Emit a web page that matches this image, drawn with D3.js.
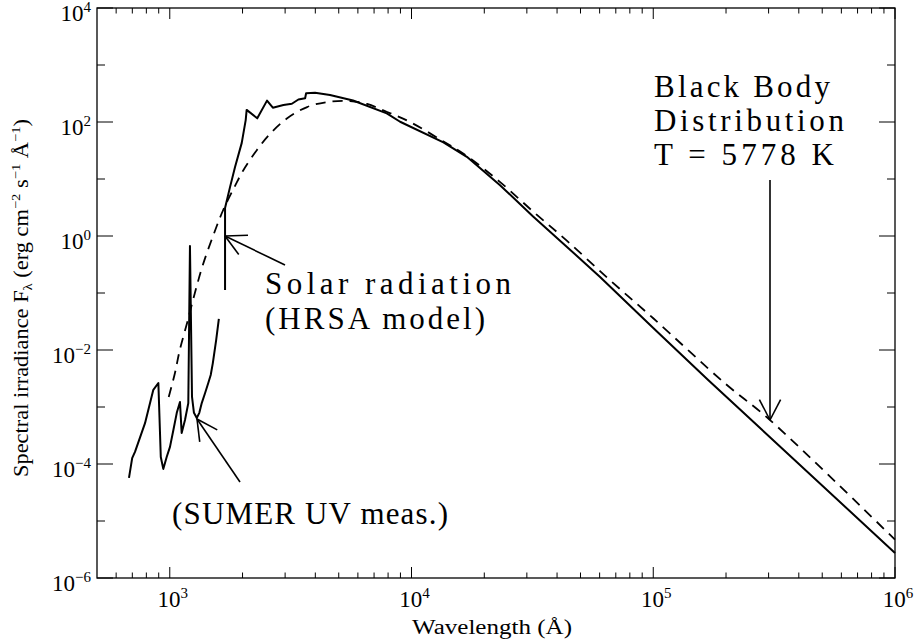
<head>
    <script src="https://d3js.org/d3.v7.min.js"></script>
</head>
<body style="margin:0;background:#fff">
<script>
    // SUMER UV measurement (solid, first piece)
    let sumerWave = [678, 699, 718, 790, 855, 897, 918, 940, 971, 1002, 1035, 1069, 1102, 1120, 1156, 1193, 1212, 1236, 1259, 1293, 1325, 1356, 1400, 1443, 1477, 1507, 1556, 1596];
    let sumerFlux = [5.7e-5, 1.27e-4, 1.63e-4, 5.2e-4, 2.0e-3, 2.64e-3, 1.33e-4, 8.2e-5, 1.33e-4, 2.0e-4, 3.95e-4, 7.9e-4, 1.22e-3, 3.5e-4, 5.9e-4, 1.17e-3, 0.67, 1.5e-3, 7.9e-4, 6.4e-4, 7.9e-4, 1.17e-3, 1.76e-3, 2.64e-3, 3.64e-3, 5.9e-3, 0.015, 0.035];

    // HRSA model (solid, second piece)
    let hrsaWave = [1693, 1693, 1775, 1862, 1985, 2061, 2080, 2301, 2525, 2669, 2953, 3199, 3405, 3630, 3664, 3990, 4600, 5730, 7900, 8970, 13550, 16940, 23240, 31840, 43850, 60250, 100000, 168700, 1000000];
    let hrsaFlux = [0.113, 3.1, 7.2, 16.3, 43, 108, 163, 116, 237, 178, 199, 209, 248, 261, 319, 327, 298, 238, 142, 101, 44, 24.5, 7.8, 2.2, 0.65, 0.191, 0.0244, 2.98e-3, 2.75e-6];

    // black body T = 5778 K (dashed)
    let bbWave = [990, 1050, 1100, 1180, 1270, 1370, 1510, 1660, 1860, 2010, 2290, 2600, 3050, 3700, 4480, 5570, 6550, 7930, 9860, 13500, 17000, 23200, 31800, 44000, 66000, 100000, 198000, 304000, 1000000];
    let bbFlux = [1.5e-3, 3.9e-3, 0.010, 0.030, 0.10, 0.31, 1.0, 2.8, 7.5, 14, 32, 62, 115, 183, 224, 233, 207, 150, 100, 46, 25, 8.9, 2.7, 0.82, 0.17, 0.036, 2.6e-3, 5.9e-4, 4.7e-6];

    let xTickExps = [3, 4, 5, 6];
    let yTickExps = [-6, -4, -2, 0, 2, 4];

    let width = 914;
    let height = 639;
    let pLeft = 97, pRight = 895, pTop = 8, pBottom = 578;
    let font = "'Liberation Serif', 'Times New Roman', serif";

    let svg = d3.select("body").append("svg")
        .attr("width", width)
        .attr("height", height)
        .style("background", "#fff");

    let x = d3.scaleLog().domain([500, 1e6]).range([pLeft, pRight]);
    let y = d3.scaleLog().domain([1e-6, 1e4]).range([pBottom, pTop]);

    // minor / major tick values
    let xMajor = xTickExps.map(e => Math.pow(10, e));
    let xMinor = [];
    [2, 3, 4, 5].forEach(e => {
        for (let k = 2; k <= 9; k++) {
            let v = k * Math.pow(10, e);
            if (v > 500 && v < 1e6) xMinor.push(v);
        }
    });
    let yMajor = yTickExps.map(e => Math.pow(10, e));
    let yMinor = [-5, -3, -1, 1, 3].map(e => Math.pow(10, e));

    let xLen = 11, yLen = 16;
    let ticks = svg.append("g").attr("stroke", "#000").attr("stroke-width", 1);
    xMajor.concat(xMinor).forEach(v => {
        let l = xMajor.includes(v) ? xLen : xLen / 2;
        ticks.append("line").attr("x1", x(v)).attr("x2", x(v)).attr("y1", pBottom).attr("y2", pBottom - l);
        ticks.append("line").attr("x1", x(v)).attr("x2", x(v)).attr("y1", pTop).attr("y2", pTop + l);
    });
    yMajor.concat(yMinor).forEach(v => {
        let l = yMajor.includes(v) ? yLen : yLen / 2;
        ticks.append("line").attr("y1", y(v)).attr("y2", y(v)).attr("x1", pLeft).attr("x2", pLeft + l);
        ticks.append("line").attr("y1", y(v)).attr("y2", y(v)).attr("x1", pRight).attr("x2", pRight - l);
    });

    svg.append("rect")
        .attr("x", pLeft).attr("y", pTop)
        .attr("width", pRight - pLeft).attr("height", pBottom - pTop)
        .attr("fill", "none").attr("stroke", "#000").attr("stroke-width", 1.3);

    // tick labels
    xTickExps.forEach(e => {
        let t = svg.append("text")
            .attr("x", x(Math.pow(10, e)) + 3).attr("y", 607)
            .attr("text-anchor", "middle")
            .attr("font-family", font).attr("font-size", 23);
        t.append("tspan").text("10");
        t.append("tspan").attr("dy", -9).attr("font-size", 15).text(e);
    });
    yTickExps.forEach(e => {
        let t = svg.append("text")
            .attr("x", 91).attr("y", y(Math.pow(10, e)) + 13)
            .attr("text-anchor", "end")
            .attr("font-family", font).attr("font-size", 23);
        t.append("tspan").text("10");
        t.append("tspan").attr("dy", -9).attr("font-size", 15).text(e < 0 ? "\u2212" + (-e) : e);
    });

    // axis titles
    svg.append("text")
        .attr("x", 492).attr("y", 634)
        .attr("text-anchor", "middle")
        .attr("font-family", font).attr("font-size", 20)
        .attr("textLength", 160).attr("lengthAdjust", "spacingAndGlyphs")
        .text("Wavelength (\u00c5)");

    let yt = svg.append("text")
        .attr("transform", "translate(28,298) rotate(-90)")
        .attr("text-anchor", "middle")
        .attr("font-family", font).attr("font-size", 20)
        .attr("textLength", 358).attr("lengthAdjust", "spacingAndGlyphs");
    yt.append("tspan").text("Spectral irradiance F");
    yt.append("tspan").attr("dy", 4).attr("font-size", 13).text("\u03bb");
    yt.append("tspan").attr("dy", -4).text(" (erg cm");
    yt.append("tspan").attr("dy", -8).attr("font-size", 13).text("\u22122");
    yt.append("tspan").attr("dy", 8).text(" s");
    yt.append("tspan").attr("dy", -8).attr("font-size", 13).text("\u22121");
    yt.append("tspan").attr("dy", 8).text(" \u00c5");
    yt.append("tspan").attr("dy", -8).attr("font-size", 13).text("\u22121");
    yt.append("tspan").attr("dy", 8).text(")");

    // curves
    let line = d3.line()
        .x(d => x(d[0]))
        .y(d => y(d[1]));
    let smooth = d3.line()
        .x(d => x(d[0]))
        .y(d => y(d[1]))
        .curve(d3.curveCatmullRom);

    let plot = svg.append("g");
    plot.append("path")
        .datum(bbWave.map((w, i) => [w, bbFlux[i]]))
        .attr("d", smooth)
        .attr("fill", "none").attr("stroke", "#000")
        .attr("stroke-width", 1.8).attr("stroke-dasharray", "10,7");
    plot.append("path")
        .datum(sumerWave.map((w, i) => [w, sumerFlux[i]]))
        .attr("d", line)
        .attr("fill", "none").attr("stroke", "#000").attr("stroke-width", 2)
        .attr("stroke-linejoin", "round");
    plot.append("path")
        .datum(hrsaWave.map((w, i) => [w, hrsaFlux[i]]))
        .attr("d", line)
        .attr("fill", "none").attr("stroke", "#000").attr("stroke-width", 2)
        .attr("stroke-linejoin", "round");

    // arrows: tail -> tip, barbs of fixed length
    function arrow(x1, y1, x2, y2) {
        let g = svg.append("g").attr("stroke", "#000").attr("stroke-width", 1.6).attr("fill", "none");
        g.append("line").attr("x1", x1).attr("y1", y1).attr("x2", x2).attr("y2", y2);
        let a = Math.atan2(y1 - y2, x1 - x2);
        [-0.48, 0.48].forEach(da => {
            g.append("line")
                .attr("x1", x2).attr("y1", y2)
                .attr("x2", x2 + 23 * Math.cos(a + da))
                .attr("y2", y2 + 23 * Math.sin(a + da));
        });
    }
    arrow(285, 265, 225, 236);
    arrow(240, 482, 197, 419);
    arrow(770, 180, 770, 420);

    // annotations
    function note(txt, x0, y0, w) {
        svg.append("text")
            .attr("x", x0).attr("y", y0)
            .attr("font-family", font).attr("font-size", 31)
            .attr("textLength", w).attr("lengthAdjust", "spacing")
            .text(txt);
    }
    note("Black Body", 654, 97, 176);
    note("Distribution", 654, 131, 190);
    note("T = 5778 K", 654, 165, 180);
    note("Solar radiation", 265, 294, 246);
    note("(HRSA model)", 265, 329, 220);
    note("(SUMER UV meas.)", 172, 524, 276);
</script>
</body>
</html>
